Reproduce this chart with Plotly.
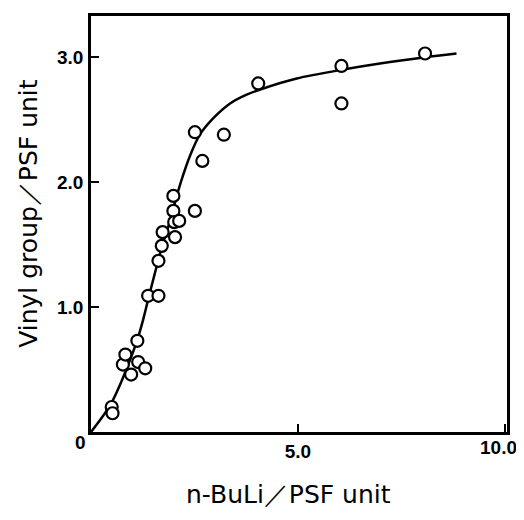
import plotly.graph_objects as go

# Measured data points (n-BuLi / PSF unit vs Vinyl group / PSF unit)
pts_x = [0.50, 0.52, 0.77, 0.83, 0.97, 1.12, 1.14, 1.31, 1.38, 1.63, 1.63, 1.71, 1.73,
         1.99, 1.99, 2.01, 2.03, 2.13, 2.51, 2.69, 2.51, 3.21, 4.04, 6.05, 6.05, 8.07]
pts_y = [0.20, 0.15, 0.54, 0.62, 0.46, 0.73, 0.56, 0.51, 1.09, 1.09, 1.37, 1.49, 1.60,
         1.89, 1.77, 1.68, 1.56, 1.69, 1.77, 2.17, 2.40, 2.38, 2.79, 2.93, 2.63, 3.03]

# Fitted curve
curve_x = [0, 0.25, 0.49, 0.73, 0.97, 1.14, 1.26, 1.38, 1.55, 1.71, 1.91, 2.03, 2.19,
           2.39, 2.63, 2.95, 3.36, 3.76, 4.16, 4.97, 6.06, 6.98, 8.07, 8.83]
curve_y = [0, 0.11, 0.23, 0.40, 0.60, 0.76, 0.90, 1.06, 1.28, 1.48, 1.69, 1.84, 2.02,
           2.21, 2.38, 2.51, 2.63, 2.70, 2.75, 2.83, 2.90, 2.95, 3.00, 3.03]

x_tickvals = [5, 10]
x_ticktext = ["5.0", ""]
x_end_label = "10.0"
y_tickvals = [1, 2, 3]
y_ticktext = ["1.0", "2.0", "3.0"]

fig = go.Figure()
fig.add_trace(go.Scatter(x=curve_x, y=curve_y, mode="lines",
                         line=dict(color="black", width=2.5, shape="spline", smoothing=0.8),
                         hoverinfo="skip", showlegend=False))
fig.add_trace(go.Scatter(x=pts_x, y=pts_y, mode="markers",
                         marker=dict(symbol="circle", size=12, color="white",
                                     line=dict(color="black", width=2.2)),
                         showlegend=False))

tickfont = dict(family="Liberation Sans", size=19, color="black", weight="bold")
titlefont = dict(family="DejaVu Sans", size=25, color="black")
fig.update_layout(
    width=508, height=504,
    margin=dict(l=83, r=9, t=5, b=80),
    paper_bgcolor="white", plot_bgcolor="white",
    xaxis=dict(range=[0, 10.05], showgrid=False, zeroline=False,
               showline=True, linecolor="black", linewidth=2.5, mirror=True,
               ticks="inside", ticklen=8, tickwidth=2, tickcolor="black",
               tickvals=x_tickvals, ticktext=x_ticktext, tickfont=tickfont,
               ticklabelstandoff=0),
    yaxis=dict(range=[0, 3.33], showgrid=False, zeroline=False,
               showline=True, linecolor="black", linewidth=2.5, mirror=True,
               ticks="inside", ticklen=8, tickwidth=2, tickcolor="black",
               tickvals=y_tickvals, ticktext=y_ticktext, tickfont=tickfont,
               ticklabelstandoff=1),
    annotations=[
        dict(text="0", xref="paper", yref="paper", x=-0.026, y=-0.026,
             showarrow=False, font=tickfont, xanchor="center", yanchor="middle"),
        dict(text=x_end_label, xref="paper", yref="paper", x=1.028, y=-0.038,
             showarrow=False, font=tickfont, xanchor="right", yanchor="middle"),
        dict(text="n-BuLi／PSF unit", xref="paper", yref="paper", x=0.475, y=-0.1909,
             showarrow=False, font=titlefont, xanchor="center", yanchor="bottom"),
        dict(text="Vinyl group／PSF unit", xref="paper", yref="paper", x=-0.151, y=0.525,
             showarrow=False, textangle=-90, font=titlefont,
             xanchor="center", yanchor="middle"),
    ],
)

fig.write_html("out.html")
